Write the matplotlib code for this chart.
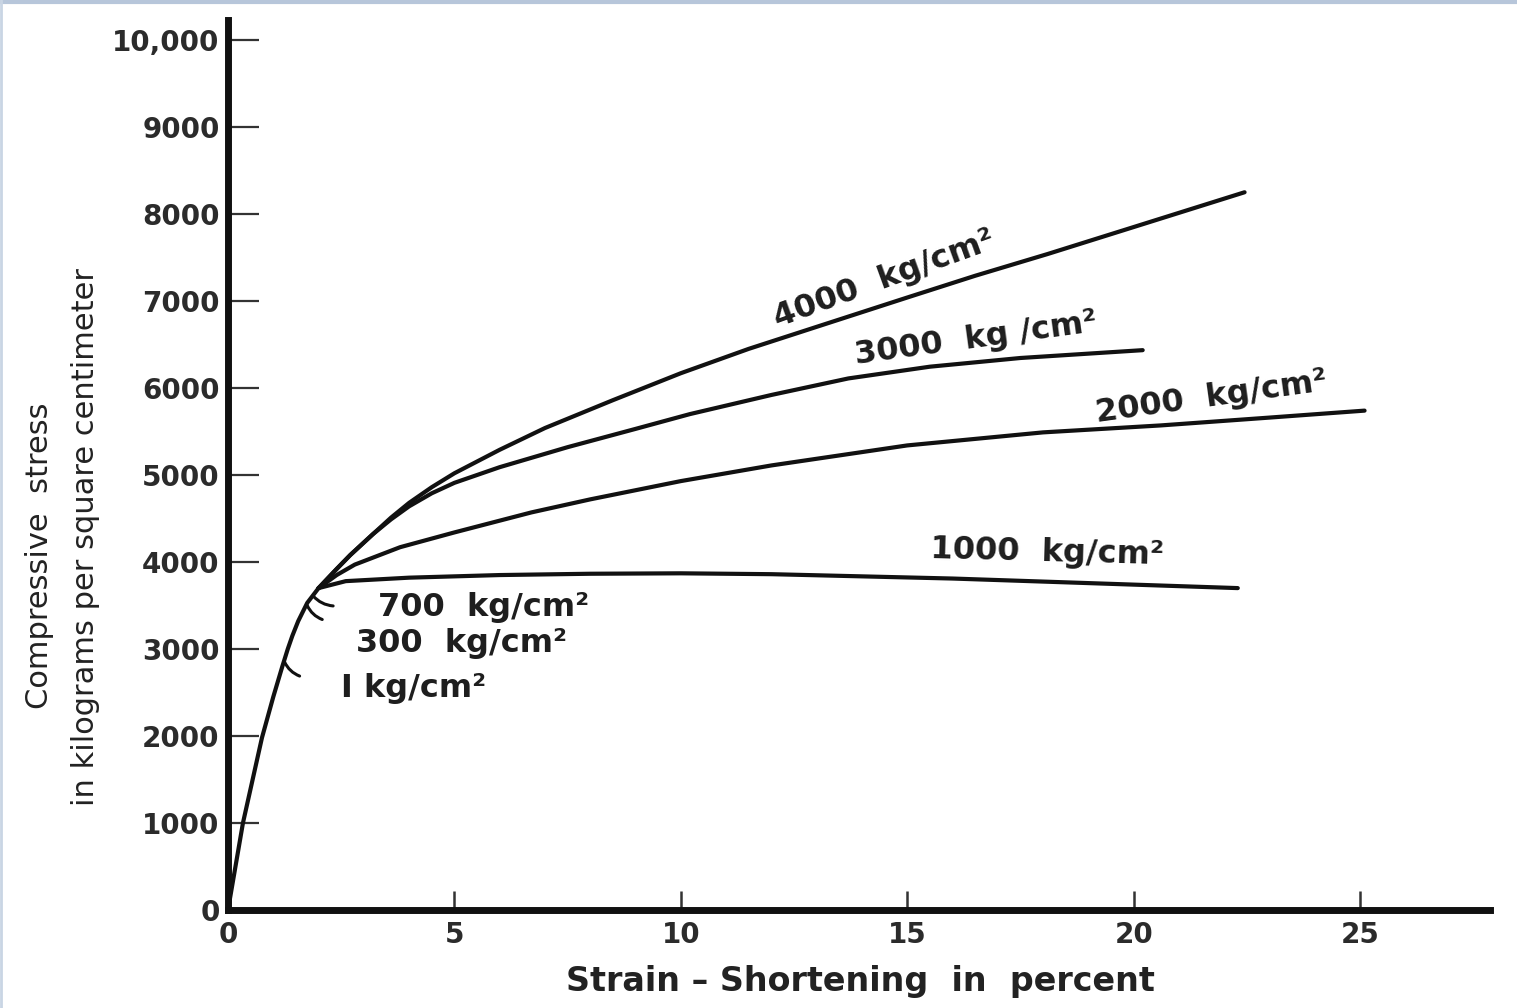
import matplotlib
matplotlib.use('Agg')
import matplotlib.pyplot as plt
from matplotlib.lines import Line2D

# stress-strain curves for marble at different confining pressures
# common elastic part (strain %, stress kg/cm2)
stem_strain = [0, 0.33, 0.75, 1.0, 1.2, 1.32, 1.42, 1.55, 1.75, 2.0]
stem_stress = [0, 1000, 1980, 2450, 2800, 3000, 3150, 3320, 3530, 3700]

c4000_strain = [2.0, 2.4, 2.7, 3.2, 3.6, 4.0, 4.5, 5.0, 6.0, 7.0, 8.5, 10, 11.5, 13.1, 15, 16.5, 18.1, 20, 22.45]
c4000_stress = [3700, 3920, 4080, 4320, 4510, 4680, 4860, 5020, 5290, 5540, 5860, 6170, 6450, 6720, 7040, 7290, 7540, 7850, 8250]

c3000_strain = [2.0, 2.4, 2.7, 3.2, 3.6, 4.0, 4.5, 5.0, 6.0, 7.5, 9.0, 10.2, 12.0, 13.7, 15.5, 17.5, 20.2]
c3000_stress = [3700, 3920, 4080, 4320, 4490, 4640, 4790, 4910, 5090, 5320, 5530, 5700, 5920, 6110, 6245, 6345, 6435]

c2000_strain = [2.0, 2.4, 2.8, 3.8, 5.0, 6.7, 8.0, 10.0, 12.0, 15.0, 18.0, 20.6, 23.0, 25.1]
c2000_stress = [3700, 3850, 3970, 4170, 4340, 4570, 4720, 4930, 5110, 5340, 5490, 5570, 5660, 5740]

c1000_strain = [2.0, 2.6, 4.0, 6.0, 8.0, 10.0, 12.0, 14.0, 16.0, 18.0, 20.0, 22.3]
c1000_stress = [3700, 3780, 3820, 3850, 3865, 3870, 3860, 3835, 3810, 3775, 3740, 3700]

# fracture points of the low pressure tests
frac_strain = [1.25, 1.75, 1.88]
frac_stress = [2850, 3500, 3610]

yticks = [0, 1000, 2000, 3000, 4000, 5000, 6000, 7000, 8000, 9000, 10000]
ytick_labels = ['0', '1000', '2000', '3000', '4000', '5000', '6000', '7000', '8000', '9000', '10,000']
xticks = [0, 5, 10, 15, 20, 25]
xtick_labels = ['0', '5', '10', '15', '20', '25']

W, H = 1517, 1008
fig = plt.figure(figsize=(W / 100, H / 100), dpi=100)
fig.patch.set_facecolor('white')
ax = fig.add_axes([228 / W, 98 / H, 1262 / W, 890 / H])
ax.set_facecolor('none')

ink = '#111111'
lw = 3.0
ax.plot(stem_strain, stem_stress, color=ink, lw=lw, solid_capstyle='round', solid_joinstyle='round')
for s, t in [(c4000_strain, c4000_stress), (c3000_strain, c3000_stress),
             (c2000_strain, c2000_stress), (c1000_strain, c1000_stress)]:
    ax.plot(s, t, color=ink, lw=lw, solid_capstyle='round', solid_joinstyle='round')

# small hooks marking where the weak tests stopped
offsets = [(15, -14), (15, -14), (20, -10)]
for x, y, (dx, dy) in zip(frac_strain, frac_stress, offsets):
    ax.annotate('', xy=(x, y), xycoords='data',
                xytext=(dx, dy), textcoords='offset pixels',
                arrowprops=dict(arrowstyle='-', lw=2.2, color=ink,
                                connectionstyle='arc3,rad=-0.2',
                                shrinkA=0, shrinkB=0))

ax.set_xlim(0, 27.87)
ax.set_ylim(0, 10230)

for side in ['top', 'right']:
    ax.spines[side].set_visible(False)
for side in ['left', 'bottom']:
    ax.spines[side].set_linewidth(5)
    ax.spines[side].set_color(ink)
    ax.spines[side].set_capstyle('projecting')

lab_font = dict(family='DejaVu Sans', weight='bold', size=20, color='#2b2b2b')
ax.set_yticks(yticks)
ax.set_yticklabels(ytick_labels, **lab_font)
ax.set_xticks(xticks)
ax.set_xticklabels(xtick_labels, **lab_font)
ax.tick_params(axis='y', direction='in', length=22, width=1.6, pad=6, color='#333333')
ax.tick_params(axis='x', direction='in', length=14, width=1.8, pad=8, color='#333333')

# curve labels
cl = dict(family='DejaVu Sans', weight='bold', size=23, color='#1e1e1e',
          ha='center', va='center', rotation_mode='anchor')
ax.text(14.5, 7250, '4000  kg/cm²', rotation=20, **cl)
ax.text(16.52, 6560, '3000  kg /cm²', rotation=7.8, **cl)
ax.text(21.71, 5890, '2000  kg/cm²', rotation=7.9, **cl)
ax.text(18.09, 4110, '1000  kg/cm²', rotation=-1.5, **cl)
ax.text(5.65, 3481, '700  kg/cm²', rotation=0, **cl)
ax.text(5.15, 3068, '300  kg/cm²', rotation=0, **cl)
ax.text(4.09, 2551, 'I kg/cm²', rotation=0, **cl)

# axis titles
fig.text(860 / W, 1 - 982 / H, 'Strain – Shortening  in  percent', ha='center', va='center',
         family='DejaVu Sans', weight='bold', size=24, color='#222222')
fig.text(40 / W, 1 - 556 / H, 'Compressive  stress', ha='center', va='center', rotation=90,
         family='DejaVu Sans', size=22, color='#222222')
fig.text(86 / W, 1 - 537 / H, 'in kilograms per square centimeter', ha='center', va='center',
         rotation=90, family='DejaVu Sans', size=22, color='#222222')

# light window frame around the scan
fig.add_artist(Line2D([0, 1], [1 - 2 / H, 1 - 2 / H], transform=fig.transFigure,
                      color='#b7c6da', lw=3))
fig.add_artist(Line2D([1 / W, 1 / W], [0, 1], transform=fig.transFigure,
                      color='#c9d5e4', lw=2))

fig.savefig('out.png', dpi=100)
